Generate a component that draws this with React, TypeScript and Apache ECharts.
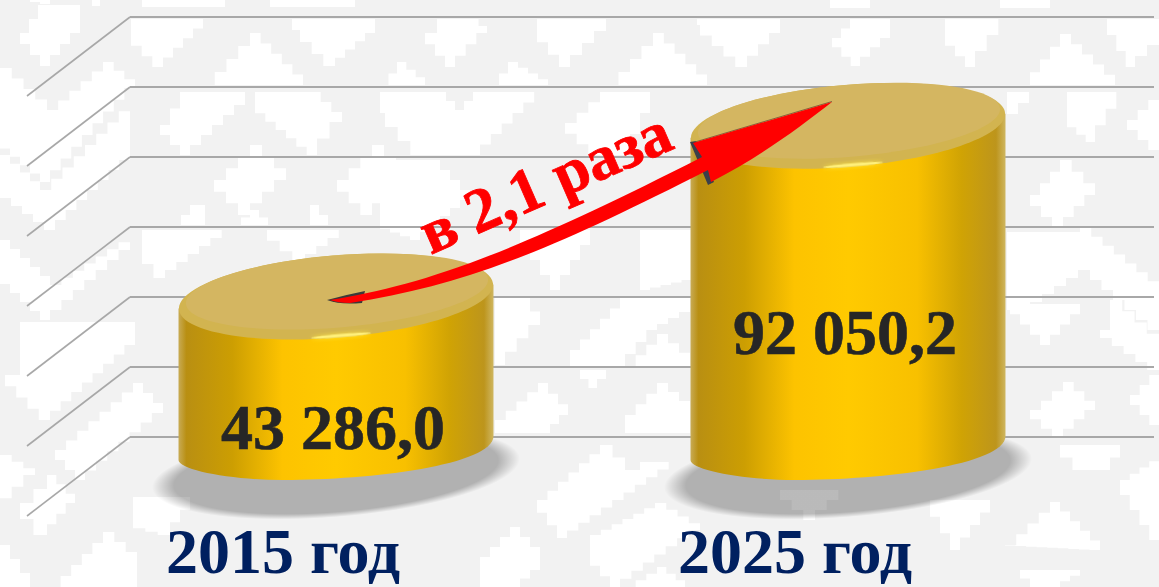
import React, { useEffect, useRef } from "react";
import * as echarts from "echarts";

// ---------- data ----------
const categories = ["2015 год", "2025 год"];
const values = [43286.0, 92050.2];
const valueLabels = ["43 286,0", "92 050,2"];
const labelAnchors = [6000, 33000];
const gridTicks = [0, 20000, 40000, 60000, 80000, 100000, 120000];
const ratioLabel = "в 2,1 раза";

// ---------- decorative ornament (white stepped shapes on light grey) ----------
const ornament: number[][][] = [
  [[20, 33], [38, 5], [65, 5], [80, 33], [50, 66]],
  [[0, 68], [47, 110], [103, 62], [135, 88], [50, 182], [0, 140]],
  [[30, 0], [65, 0], [50, 4]],
  [[92, 0], [110, 0], [100, 6]],
  [[142, 0], [230, 0], [225, 7], [150, 7]],
  [[270, 0], [363, 0], [355, 7], [280, 7]],
  [[131, 19], [213, 19], [163, 67], [131, 35]],
  [[292, 19], [375, 19], [375, 33], [335, 66], [300, 30]],
  [[203, 85], [250, 33], [303, 85]],
  [[180, 92], [245, 92], [245, 105], [190, 155], [160, 125]],
  [[255, 92], [310, 92], [342, 122], [317, 155], [255, 105]],
  [[214, 180], [250, 145], [286, 180], [250, 215]],
  [[337, 180], [372, 145], [408, 180], [372, 215]],
  [[172, 225], [190, 205], [205, 225]],
  [[232, 225], [250, 210], [268, 225]],
  [[295, 225], [310, 205], [328, 225]],
  [[142, 230], [233, 230], [165, 278], [142, 250]],
  [[267, 230], [350, 230], [305, 262]],
  [[0, 155], [40, 190], [130, 100], [130, 160], [55, 230], [0, 190]],
  [[0, 240], [50, 285], [130, 235], [130, 250], [50, 320], [0, 275]],
  [[20, 322], [135, 322], [135, 345], [50, 420], [5, 375]],
  [[133, 383], [163, 413], [85, 480], [55, 450]],
  [[20, 503], [47, 475], [75, 503], [47, 535]],
  [[0, 455], [35, 475], [0, 510]],
  [[103, 532], [137, 562], [137, 587], [50, 587]],
  [[133, 497], [200, 497], [170, 535], [133, 525]],
  [[0, 545], [30, 587], [0, 587]],
  [[425, 33], [437, 19], [470, 19], [487, 33], [455, 67]],
  [[537, 19], [618, 19], [570, 67], [537, 30]],
  [[607, 85], [653, 33], [707, 85]],
  [[697, 19], [780, 19], [780, 33], [747, 67], [700, 25]],
  [[380, 85], [397, 62], [425, 85]],
  [[490, 85], [508, 62], [548, 85]],
  [[380, 92], [437, 92], [455, 110], [473, 92], [545, 92], [480, 155], [423, 155], [385, 113]],
  [[565, 123], [600, 92], [660, 92], [630, 155], [600, 155]],
  [[380, 160], [430, 160], [470, 200], [420, 240], [380, 225]],
  [[520, 230], [600, 230], [560, 290]],
  [[640, 230], [692, 230], [692, 280], [650, 290]],
  [[495, 298], [520, 298], [540, 325], [505, 365], [495, 365]],
  [[620, 298], [690, 298], [690, 312], [657, 330], [625, 366], [570, 366], [570, 350]],
  [[657, 334], [690, 362], [690, 366], [625, 366]],
  [[538, 383], [568, 415], [550, 433], [495, 433], [495, 420]],
  [[657, 383], [690, 410], [690, 433], [640, 433], [625, 415]],
  [[580, 370], [615, 370], [597, 388]],
  [[537, 500], [600, 445], [625, 470], [640, 462], [680, 462], [567, 538]],
  [[590, 535], [655, 503], [700, 530], [620, 587], [590, 555]],
  [[510, 527], [540, 557], [540, 570], [520, 587], [480, 587], [480, 557]],
  [[657, 567], [685, 587], [625, 587]],
  [[832, 38], [850, 19], [875, 19], [890, 38], [860, 66]],
  [[945, 19], [1010, 19], [975, 67], [945, 35]],
  [[1020, 85], [1060, 34], [1115, 85]],
  [[1107, 19], [1159, 19], [1159, 45], [1135, 67]],
  [[830, 0], [880, 0], [870, 8], [840, 8]],
  [[1000, 0], [1060, 0], [1050, 8], [1010, 8]],
  [[1067, 92], [1127, 92], [1095, 142], [1067, 120]],
  [[1159, 100], [1127, 130], [1159, 160]],
  [[1007, 92], [1040, 92], [1007, 125]],
  [[1030, 195], [1060, 160], [1095, 195], [1063, 228]],
  [[1007, 232], [1070, 232], [1080, 228], [1159, 290], [1159, 330], [1090, 270], [1030, 310], [1007, 310]],
  [[1010, 304], [1090, 304], [1050, 345]],
  [[1110, 300], [1159, 345], [1159, 370], [1100, 330]],
  [[1030, 410], [1063, 382], [1095, 410], [1063, 438]],
  [[1159, 375], [1130, 405], [1159, 435]],
  [[1060, 445], [1130, 445], [1110, 470], [1085, 470]],
  [[1005, 545], [1050, 502], [1100, 550]],
  [[1120, 480], [1159, 455], [1159, 540]],
  [[930, 500], [1000, 500], [960, 550]],
  [[780, 490], [850, 490], [815, 520]],
  [[1020, 570], [1090, 570], [1060, 587], [1040, 587]],
];

function stair(pts: number[][]): number[][] {
  const out: number[][] = [];
  for (let i = 0; i < pts.length; i++) {
    const p = pts[i];
    const q = pts[(i + 1) % pts.length];
    const dx = q[0] - p[0];
    const dy = q[1] - p[1];
    out.push(p);
    if (Math.abs(dx) > 1 && Math.abs(dy) > 1) {
      const n = Math.max(1, Math.round(Math.abs(dx) / 11));
      for (let k = 1; k <= n; k++) {
        const y1 = p[1] + (dy * k) / n;
        const x1 = p[0] + (dx * k) / n;
        out.push([x1, p[1] + (dy * (k - 1)) / n]);
        if (k < n) out.push([x1, y1]);
      }
    }
  }
  return out;
}

const ARROW_D =
  "M330 300 C 420 285 500 260 702 157 L 693 143 L 832 102 C 800 127 760 157 711 182 L 708 170 C 560 245 470 285 350 303 Q 338 303 330 300 Z";
const ARROW_TAIL_D = "M327 300 Q 345 295 365 291 L 362 303 Q 340 305 327 300 Z";

const SERIF = "'Liberation Serif', 'Times New Roman', serif";
const TILT = 0.082;

const sideGradient = (x0: number, x1: number) =>
  new echarts.graphic.LinearGradient(
    x0, 0, x1, 0,
    [
      { offset: 0, color: "#c8ab55" },
      { offset: 0.025, color: "#b98f12" },
      { offset: 0.17, color: "#cc9e02" },
      { offset: 0.33, color: "#fdc300" },
      { offset: 0.5, color: "#ffca00" },
      { offset: 0.72, color: "#f8c000" },
      { offset: 0.86, color: "#d0a304" },
      { offset: 0.97, color: "#bd951c" },
      { offset: 1, color: "#cfb660" },
    ],
    true
  );

function cylinderItem(params: any, api: any) {
  const i = api.value(0);
  const v = api.value(1);
  const [cx, topY] = api.coord([i, v]);
  const baseY = api.coord([i, 0])[1];
  const a = api.size([1, 0])[0] * 0.3076;
  const lift = 12;
  const left = cx - a;
  const right = cx + a;
  const bot = baseY + 32;
  const d = [
    `M${left} ${topY + lift}`,
    `L${left} ${baseY + lift}`,
    `C${left} ${baseY + 22} ${cx - 105} ${bot} ${cx - 53} ${bot}`,
    `C${cx + 35} ${bot} ${right} ${baseY + 17} ${right} ${baseY - lift}`,
    `L${right} ${topY - lift}`,
    "Z",
  ].join(" ");
  const labelY = api.coord([i, labelAnchors[params.dataIndex]])[1];
  return {
    type: "group",
    children: [
      {
        type: "ellipse",
        x: cx,
        y: baseY + 25,
        rotation: TILT,
        shape: { cx: 0, cy: 0, rx: a + 27, ry: 44 },
        style: {
          fill: new echarts.graphic.RadialGradient(0.5, 0.5, 0.5, [
            { offset: 0, color: "rgba(0,0,0,0.27)" },
            { offset: 0.88, color: "rgba(0,0,0,0.27)" },
            { offset: 1, color: "rgba(0,0,0,0)" },
          ]),
        },
      },
      {
        type: "path",
        shape: { pathData: d, x: left, y: topY - lift, width: 2 * a, height: bot - topY + lift, layout: "none" },
        style: { fill: sideGradient(left, right) },
      },
      {
        type: "ellipse",
        x: cx,
        y: topY,
        rotation: TILT,
        shape: { cx: 0, cy: 0, rx: a, ry: 41 },
        style: {
          fill: new echarts.graphic.LinearGradient(
            cx - a, 0, cx + a, 0,
            [
              { offset: 0, color: "#d2b450" },
              { offset: 0.12, color: "#e4b80a" },
              { offset: 0.5, color: "#ffcc06" },
              { offset: 0.88, color: "#e8b90a" },
              { offset: 1, color: "#d4b450" },
            ],
            true
          ),
        },
      },
      {
        type: "ellipse",
        x: cx + 1,
        y: topY - 5,
        rotation: TILT,
        shape: { cx: 0, cy: 0, rx: a - 6, ry: 36 },
        style: { fill: "#d4b661" },
      },
      {
        type: "ellipse",
        x: cx + 5,
        y: topY + 39,
        rotation: TILT,
        shape: { cx: 0, cy: 0, rx: 30, ry: 1.6 },
        style: { fill: "#fff07a", shadowBlur: 4, shadowColor: "#ffe83a" },
      },
      {
        type: "text",
        x: cx - 3,
        y: labelY,
        style: {
          text: valueLabels[params.dataIndex],
          font: `bold 64px ${SERIF}`,
          fill: "#262626",
          stroke: "#262626",
          lineWidth: 0.6,
          align: "center",
          verticalAlign: "middle",
        },
      },
    ],
  };
}

function slantItem(params: any, api: any) {
  const v = api.value(0);
  const y = api.coord([0, v])[1];
  const x = params.coordSys.x;
  return {
    type: "line",
    shape: { x1: x, y1: y, x2: x - 103, y2: y + 79 },
    style: { stroke: "#a8a8a8", lineWidth: 1.6 },
  };
}

export default function App() {
  const ref = useRef<HTMLDivElement>(null);
  useEffect(() => {
    if (!ref.current) return;
    echarts.graphic.registerShape("ratioArrow", echarts.graphic.extendPath(ARROW_D, {}));
    echarts.graphic.registerShape("ratioArrowTail", echarts.graphic.extendPath(ARROW_TAIL_D, {}));
    const chart = echarts.init(ref.current, undefined, { renderer: "svg" });
    const hiddenY = { type: "value", min: 0, max: 120000, interval: 20000, show: false };
    chart.setOption({
      animation: false,
      backgroundColor: "#f2f2f2",
      grid: [
        { left: 130, width: 1024, top: 17, height: 420 },
        { left: 27, width: 1024, top: 95, height: 420 },
        { left: 80, width: 1024, top: 28, height: 420 },
      ],
      xAxis: [
        { type: "category", gridIndex: 0, data: categories, show: false },
        {
          type: "category",
          gridIndex: 1,
          data: categories,
          axisLine: { show: false },
          axisTick: { show: false },
          axisLabel: {
            interval: 0,
            margin: 8,
            fontFamily: SERIF,
            fontWeight: "bold",
            fontSize: 64,
            lineHeight: 56,
            color: "#002060",
          },
        },
        { type: "category", gridIndex: 2, data: categories, show: false },
      ],
      yAxis: [
        {
          type: "value",
          gridIndex: 0,
          min: 0,
          max: 120000,
          interval: 20000,
          axisLine: { show: false },
          axisTick: { show: false },
          axisLabel: { show: false },
          splitLine: { show: true, lineStyle: { color: "#a8a8a8", width: 2 } },
        },
        { ...hiddenY, gridIndex: 1, splitLine: { show: false } },
        { ...hiddenY, gridIndex: 2, splitLine: { show: false } },
      ],
      graphic: [
        ...ornament.map((pts) => ({
          type: "polygon",
          silent: true,
          z: -10,
          shape: { points: stair(pts) },
          style: { fill: "#ffffff" },
        })),
        {
          type: "ratioArrowTail",
          z: 100,
          style: { fill: "#3a3a3a" },
        },
        {
          type: "polygon",
          z: 100,
          shape: { points: [[690, 142], [708, 185], [714, 182], [696, 141]] },
          style: { fill: "#3b3f4a" },
        },
        {
          type: "polyline",
          z: 100,
          shape: { points: [[695, 142], [832, 101.5]] },
          style: { stroke: "#7a5a3a", lineWidth: 0.9, fill: "none" },
        },
        {
          type: "ratioArrow",
          z: 101,
          style: { fill: "#ff0000" },
        },
        {
          type: "text",
          z: 102,
          x: 545,
          y: 182,
          rotation: 0.41,
          style: {
            text: ratioLabel,
            font: `bold 63px ${SERIF}`,
            fill: "#ff0000",
            stroke: "#ff0000",
            lineWidth: 0.8,
            align: "center",
            verticalAlign: "middle",
          },
        },
      ],
      series: [
        {
          type: "custom",
          xAxisIndex: 0,
          yAxisIndex: 0,
          data: gridTicks.map((t) => [t]),
          encode: { y: 0 },
          renderItem: slantItem,
          silent: true,
          clip: false,
          z: 1,
        },
        {
          type: "custom",
          name: "Значение",
          xAxisIndex: 2,
          yAxisIndex: 2,
          data: values.map((v, i) => [i, v]),
          encode: { x: 0, y: 1 },
          renderItem: cylinderItem,
          clip: false,
          z: 5,
        },
      ],
    });
    return () => chart.dispose();
  }, []);
  return <div ref={ref} style={{ position: "absolute", left: 0, top: 0, width: 1159, height: 587 }} />;
}
